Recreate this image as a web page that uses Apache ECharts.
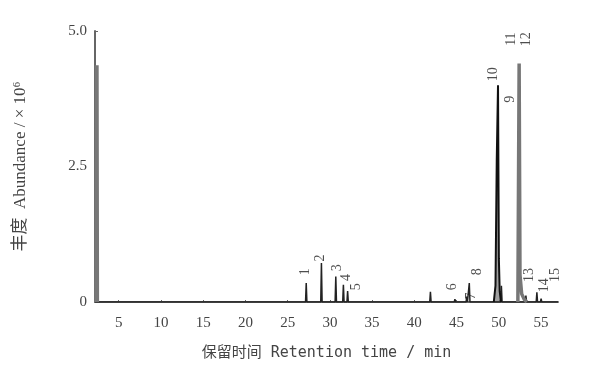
<!DOCTYPE html>
<html>
<head>
<meta charset="utf-8">
<script src="https://cdn.jsdelivr.net/npm/echarts@6/dist/echarts.min.js"></script>
<style>
  html, body { margin: 0; padding: 0; background: #fff; }
  #chart { width: 591px; height: 376px; }
</style>
</head>
<body>
<div id="chart"></div>
<script>
// retention time (min) and abundance (x10^6) of the narrow peaks
const peakTimes = [27.2, 29.0, 30.7, 31.6, 32.1, 41.9, 44.8, 46.2, 46.5, 50.3, 53.2, 54.5, 55.0]
const peakHeights = [0.35, 0.72, 0.47, 0.32, 0.2, 0.19, 0.05, 0.1, 0.35, 0.3, 0.12, 0.18, 0.06]

// the big peak near 50 min (peak 10) with its front shoulder
const peak10Times = [49.4, 49.6, 49.75, 49.9, 50.0, 50.1, 50.25]
const peak10Values = [0, 0.3, 2.6, 4.0, 0.8, 0.2, 0]

// solvent peak and peak 11/12 (grey, broad)
const solventTimes = [2.35, 2.4, 2.45]
const solventValues = [0, 4.37, 0]
const peak1112Times = [52.25, 52.4, 52.5, 52.7, 53.0, 53.3]
const peak1112Values = [0, 4.4, 0.5, 0.15, 0.05, 0]

// peak number labels: [time, abundance]
const labelNames = ['1', '2', '3', '4', '5', '6', '7', '8', '9', '10', '11', '12', '13', '14', '15']
const labelTimes = [27.1, 28.9, 30.9, 32.0, 33.1, 44.5, 46.8, 47.4, 51.3, 49.3, 51.5, 53.2, 53.6, 55.4, 56.7]
const labelValues = [0.56, 0.81, 0.63, 0.45, 0.28, 0.28, 0.11, 0.56, 3.74, 4.2, 4.85, 4.85, 0.5, 0.31, 0.5]

const xTicks = [5, 10, 15, 20, 25, 30, 35, 40, 45, 50, 55]

// narrow peaks become spikes on a flat baseline
const spikeData = [[2.2, 0]]
peakTimes.forEach((t, i) => {
  spikeData.push([t - 0.08, 0], [t, peakHeights[i]], [t + 0.08, 0])
})
spikeData.push([57, 0])

const zip = (xs, ys) => xs.map((x, i) => [x, ys[i]])

const chart = echarts.init(document.getElementById('chart'))

const serif = '"Liberation Serif", "DejaVu Serif", serif'

chart.setOption({
  animation: false,
  grid: { left: 95, right: 33, top: 31, bottom: 74 },
  xAxis: {
    type: 'value',
    min: 2.2,
    max: 57,
    name: '保留时间 Retention time / min',
    nameLocation: 'middle',
    nameGap: 44,
    nameTextStyle: { color: '#444', fontSize: 15, fontFamily: '"DejaVu Sans Mono", "Noto Sans CJK SC", monospace' },
    axisLine: { lineStyle: { color: '#666', width: 2 } },
    axisTick: { customValues: xTicks, inside: true, length: 2, lineStyle: { color: '#666' } },
    axisLabel: { customValues: xTicks, color: '#444', fontSize: 15, fontFamily: serif, margin: 14 },
    splitLine: { show: false }
  },
  yAxis: {
    type: 'value',
    min: 0,
    max: 5,
    interval: 2.5,
    name: '丰度  Abundance / × 10⁶',
    nameLocation: 'middle',
    nameGap: 66,
    nameTextStyle: { color: '#444', fontSize: 17, fontFamily: '"Liberation Serif", "Noto Sans CJK SC", serif' },
    axisLine: { show: true, lineStyle: { color: '#666', width: 2 } },
    axisTick: { show: true, inside: true, length: 3, lineStyle: { color: '#666' } },
    axisLabel: {
      color: '#444', fontSize: 15, fontFamily: serif, margin: 8,
      formatter: (v) => (v === 0 ? '0' : v.toFixed(1))
    },
    splitLine: { show: false }
  },
  series: [
    {
      type: 'line', symbol: 'none', data: spikeData,
      lineStyle: { color: '#222', width: 1.5 }
    },
    {
      type: 'line', symbol: 'none', data: zip(peak10Times, peak10Values),
      lineStyle: { color: '#111', width: 2 },
      areaStyle: { color: '#777' }
    },
    {
      type: 'line', symbol: 'none', data: zip(solventTimes, solventValues),
      lineStyle: { color: '#777', width: 4 }
    },
    {
      type: 'line', symbol: 'none', data: zip(peak1112Times, peak1112Values),
      lineStyle: { color: '#777', width: 3.5 }
    },
    {
      type: 'scatter', symbolSize: 0,
      data: labelTimes.map((t, i) => ({ value: [t, labelValues[i]], name: labelNames[i] })),
      label: {
        show: true, position: 'inside', rotate: 90,
        formatter: (p) => p.name,
        color: '#222', fontSize: 14, fontFamily: serif
      }
    }
  ]
})
</script>
</body>
</html>
